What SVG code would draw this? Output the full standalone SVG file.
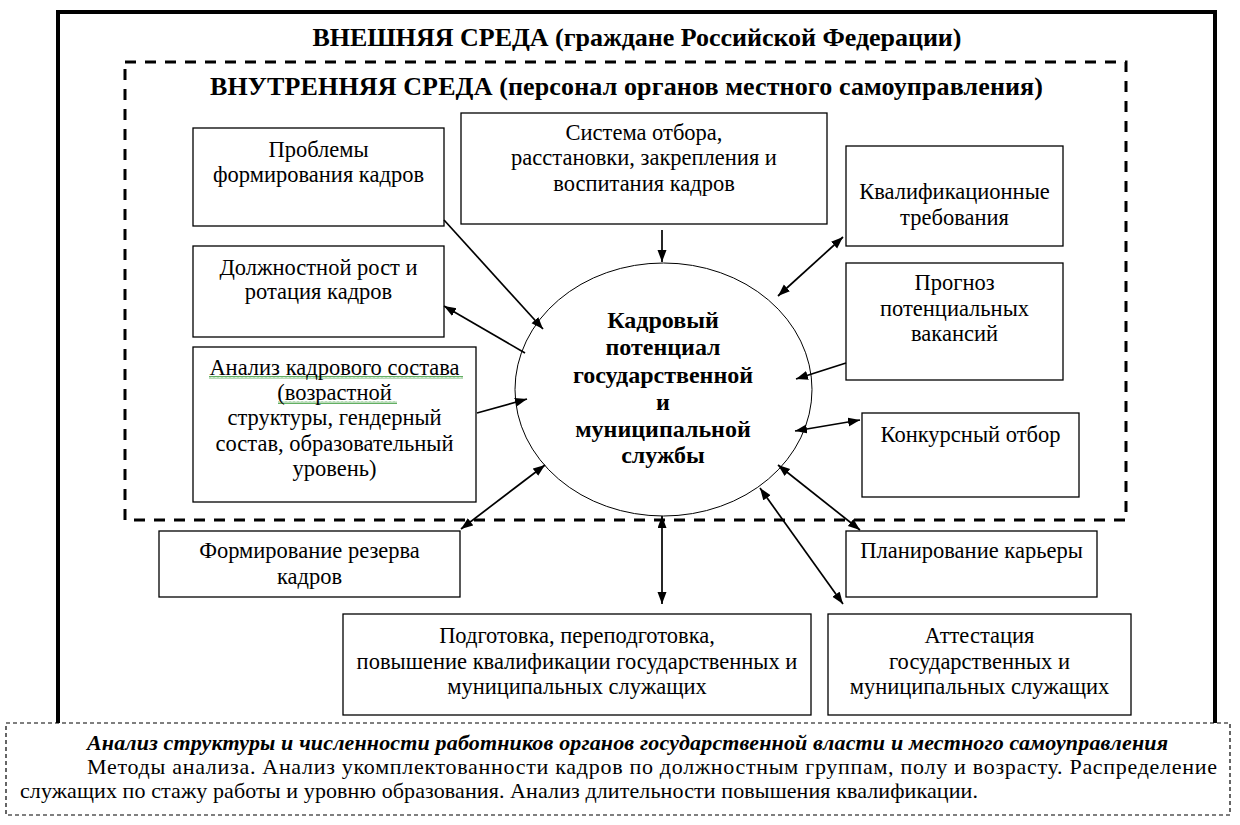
<svg xmlns="http://www.w3.org/2000/svg" width="1240" height="825" viewBox="0 0 1240 825">
<style>
text{font-family:'Liberation Serif','Times New Roman',serif;fill:#000}
.bx{fill:#fff;stroke:#000;stroke-width:1.3}
.t{font-size:22.5px;text-anchor:middle}
.tb{font-size:26px;font-weight:bold;text-anchor:middle}
.tc{font-size:24px;font-weight:bold;text-anchor:middle}
.tn{font-size:22px}
.c{stroke:#000;stroke-width:1.7;fill:none}
.one{marker-end:url(#ah)}
.two{marker-end:url(#ah);marker-start:url(#ah)}
</style>
<defs>
<marker id="ah" markerUnits="userSpaceOnUse" markerWidth="13" markerHeight="10" refX="12" refY="4.5" orient="auto-start-reverse">
<path d="M0,0 L12,4.5 L0,9 z" fill="#000"/>
</marker>
<pattern id="wave" width="4" height="3" patternUnits="userSpaceOnUse">
<path d="M0,2.5 L1,0.5 L2,2.5 L3,0.5 L4,2.5" fill="none" stroke="#3a9a3a" stroke-width="0.8"/>
</pattern>
</defs>
<rect width="1240" height="825" fill="#fff"/>

<g id="outer">
<rect x="58" y="12" width="1157" height="740" fill="none" stroke="#000" stroke-width="4"/>
<text class="tb" x="637" y="46" textLength="649">ВНЕШНЯЯ СРЕДА (граждане Российской Федерации)</text>
</g>

<g id="inner">
<rect x="125" y="62" width="1001" height="458" fill="none" stroke="#000" stroke-width="3" stroke-dasharray="11,9"/>
<text class="tb" x="626.5" y="95" textLength="833">ВНУТРЕННЯЯ СРЕДА (персонал органов местного самоуправления)</text>
</g>

<g id="center">
<ellipse cx="663.5" cy="389.5" rx="148.5" ry="126.5" fill="#fff" stroke="#000" stroke-width="1"/>
<text class="tc" x="663" y="328">Кадровый</text>
<text class="tc" x="663" y="355">потенциал</text>
<text class="tc" x="663" y="383">государственной</text>
<text class="tc" x="663" y="410">и</text>
<text class="tc" x="663" y="437">муниципальной</text>
<text class="tc" x="663" y="463">службы</text>
</g>

<g id="n-problems">
<rect class="bx" x="193" y="128" width="251" height="98"/>
<text class="t" x="318.5" y="157">Проблемы</text>
<text class="t" x="318.5" y="182">формирования кадров</text>
</g>

<g id="n-system">
<rect class="bx" x="461" y="113" width="366" height="111"/>
<text class="t" x="644" y="140">Система отбора,</text>
<text class="t" x="644" y="165">расстановки, закрепления и</text>
<text class="t" x="644" y="191">воспитания кадров</text>
</g>

<g id="n-qual">
<rect class="bx" x="846" y="146" width="217" height="100"/>
<text class="t" x="954.5" y="199">Квалификационные</text>
<text class="t" x="954.5" y="225">требования</text>
</g>

<g id="n-rotation">
<rect class="bx" x="193" y="246" width="251" height="91"/>
<text class="t" x="318.5" y="275">Должностной рост и</text>
<text class="t" x="318.5" y="299">ротация кадров</text>
</g>

<g id="n-forecast">
<rect class="bx" x="846" y="263" width="217" height="117"/>
<text class="t" x="954.5" y="290">Прогноз</text>
<text class="t" x="954.5" y="316">потенциальных</text>
<text class="t" x="954.5" y="341">вакансий</text>
</g>

<g id="n-analysis">
<rect class="bx" x="193" y="347" width="283" height="155"/>
<rect x="209" y="376" width="254" height="3" fill="url(#wave)"/>
<rect x="278" y="401" width="119" height="3" fill="url(#wave)"/>
<text class="t" x="334.5" y="375">Анализ кадрового состава</text>
<text class="t" x="334.5" y="400">(возрастной</text>
<text class="t" x="334.5" y="425">структуры, гендерный</text>
<text class="t" x="334.5" y="451">состав, образовательный</text>
<text class="t" x="334.5" y="476">уровень)</text>
</g>

<g id="n-contest">
<rect class="bx" x="862" y="413" width="217" height="84"/>
<text class="t" x="970.5" y="442">Конкурсный отбор</text>
</g>

<g id="n-reserve">
<rect class="bx" x="159" y="531" width="301" height="66"/>
<text class="t" x="309.5" y="558">Формирование резерва</text>
<text class="t" x="309.5" y="584">кадров</text>
</g>

<g id="n-career">
<rect class="bx" x="846" y="531" width="251" height="66"/>
<text class="t" x="971.5" y="558">Планирование карьеры</text>
</g>

<g id="n-training">
<rect class="bx" x="343" y="614" width="468" height="101"/>
<text class="t" x="577" y="643">Подготовка, переподготовка,</text>
<text class="t" x="577" y="669">повышение квалификации государственных и</text>
<text class="t" x="577" y="694">муниципальных служащих</text>
</g>

<g id="n-attest">
<rect class="bx" x="828" y="614" width="303" height="101"/>
<text class="t" x="979.5" y="643">Аттестация</text>
<text class="t" x="979.5" y="669">государственных и</text>
<text class="t" x="979.5" y="694">муниципальных служащих</text>
</g>

<g id="connectors">
<line class="c one" x1="444" y1="220" x2="543" y2="329"/>
<line class="c one" x1="525" y1="353" x2="444" y2="306"/>
<line class="c one" x1="477" y1="413" x2="527" y2="399"/>
<line class="c two" x1="545" y1="465" x2="461" y2="529"/>
<line class="c one" x1="662" y1="230" x2="662" y2="262"/>
<line class="c two" x1="662" y1="516" x2="662" y2="604"/>
<line class="c two" x1="778" y1="296" x2="843" y2="237"/>
<line class="c one" x1="846" y1="363" x2="796" y2="379"/>
<line class="c two" x1="795" y1="431" x2="860" y2="420"/>
<line class="c two" x1="778" y1="465" x2="860" y2="530"/>
<line class="c two" x1="760" y1="488" x2="843" y2="604"/>
</g>

<g id="note">
<rect x="6" y="723" width="1224" height="92" fill="#fff" stroke="#000" stroke-width="1.2" stroke-dasharray="4,3"/>
<text class="tn" x="87" y="750" textLength="1081" font-size="21px" font-weight="bold" font-style="italic">Анализ структуры и численности работников органов  государственной власти и местного  самоуправления</text>
<text class="tn" x="87" y="774" textLength="1130">Методы анализа. Анализ укомплектованности кадров по должностным группам, полу и возрасту. Распределение</text>
<text class="tn" x="20" y="798" textLength="958">служащих по стажу работы и уровню образования. Анализ длительности повышения квалификации.</text>
</g>
</svg>
